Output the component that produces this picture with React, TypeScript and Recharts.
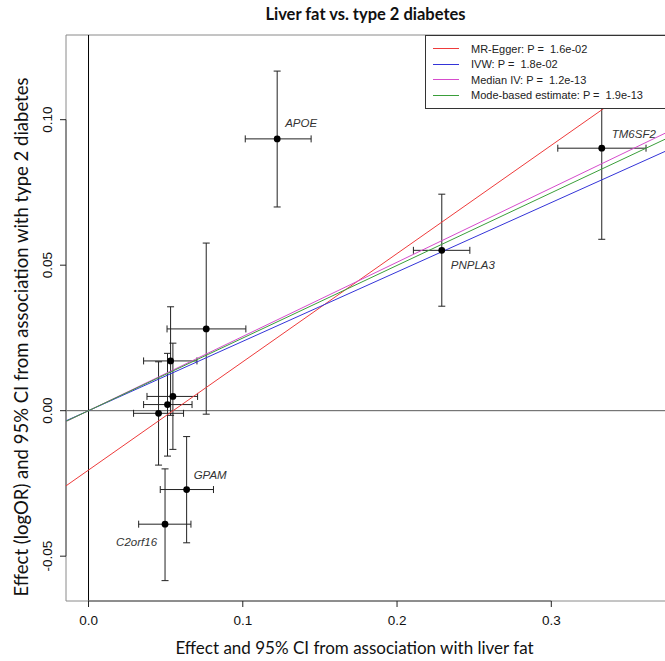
import React from "react";
import {
  ScatterChart,
  Scatter,
  XAxis,
  YAxis,
  ErrorBar,
  ReferenceLine,
  Label,
} from "recharts";

// Genetic variants (labelled ones first, unlabelled ones after)
const genes = ["APOE", "TM6SF2", "PNPLA3", "GPAM", "C2orf16", "", "", "", "", ""];
// association with liver fat (x) and its 95% CI
const betaX = [0.1223, 0.3327, 0.229, 0.0636, 0.0496, 0.0763, 0.0532, 0.0547, 0.0512, 0.0454];
const lowX = [0.1016, 0.3042, 0.2106, 0.0465, 0.0325, 0.0509, 0.0357, 0.0379, 0.0357, 0.0292];
const highX = [0.1443, 0.3614, 0.2472, 0.081, 0.0664, 0.102, 0.0703, 0.0707, 0.0671, 0.0616];
// association with type 2 diabetes (y) and its 95% CI
const betaY = [0.0934, 0.0902, 0.0551, -0.0271, -0.039, 0.0281, 0.0171, 0.0049, 0.0021, -0.0009];
const lowY = [0.07, 0.0589, 0.0359, -0.0454, -0.0584, -0.0012, -0.0016, -0.0133, -0.0156, -0.0187];
const highY = [0.1167, 0.1215, 0.0744, -0.0089, -0.02, 0.0576, 0.0357, 0.0232, 0.0197, 0.0168];

// MR estimates
const methods = ["MR-Egger", "IVW", "Median IV", "Mode-based estimate"];
const pValues = ["1.6e-02", "1.8e-02", "1.2e-13", "1.9e-13"];
const intercepts = [-0.0204, 0, 0, 0];
const slopes = [0.372, 0.2384, 0.2551, 0.2496];
const colors = ["#ee3b3b", "#3434d8", "#d64ccc", "#3a9e3a"];

const xTicks = [0, 0.1, 0.2, 0.3];
const yTicks = [-0.05, 0, 0.05, 0.1];
const xDomain = [-0.0146, 0.3737];
const yDomain = [-0.0654, 0.1291];

// where each gene name sits relative to its point
const labelPos: Record<string, { dx: number; dy: number; anchor: string }> = {
  APOE: { dx: 8, dy: -16, anchor: "start" },
  TM6SF2: { dx: 10, dy: -14, anchor: "start" },
  PNPLA3: { dx: 9, dy: 15, anchor: "start" },
  GPAM: { dx: 7, dy: -15, anchor: "start" },
  C2orf16: { dx: -8, dy: 18, anchor: "end" },
};

const points = genes.map((gene, i) => ({
  gene,
  x: betaX[i],
  y: betaY[i],
  xErr: [betaX[i] - lowX[i], highX[i] - betaX[i]],
  yErr: [betaY[i] - lowY[i], highY[i] - betaY[i]],
}));

const fitLines = methods.map((name, i) => ({
  name,
  color: colors[i],
  data: xDomain.map((x) => ({ x, y: intercepts[i] + slopes[i] * x })),
}));

const tickFont = "'Liberation Sans', Arial, sans-serif";
const titleFont = "Lato, 'Open Sans', sans-serif";
const boxColor = "#8a8a8a";

const GeneDot = (props: any) => {
  const { cx, cy, payload } = props;
  const pos = labelPos[payload.gene];
  return (
    <g>
      <circle cx={cx} cy={cy} r={3.4} fill="#000" />
      {pos && (
        <text
          x={cx + pos.dx}
          y={cy + pos.dy}
          dy="0.35em"
          textAnchor={pos.anchor}
          fontStyle="italic"
          fontSize={11.5}
          fontFamily={tickFont}
          fill="#333"
        >
          {payload.gene}
        </text>
      )}
    </g>
  );
};

const NoDot = () => <g />;

const XTick = ({ x, y, payload }: any) => (
  <text x={x} y={y + 11} dy="0.35em" textAnchor="middle" fontSize={13.5} fontFamily={tickFont} fill="#111">
    {payload.value.toFixed(1)}
  </text>
);

const YTick = ({ x, y, payload }: any) => (
  <text
    x={x - 11}
    y={y}
    dy="0.35em"
    textAnchor="middle"
    transform={`rotate(-90 ${x - 11} ${y})`}
    fontSize={13.5}
    fontFamily={tickFont}
    fill="#111"
  >
    {payload.value.toFixed(2)}
  </text>
);

const XTitle = ({ viewBox }: any) => (
  <text
    x={viewBox.x + viewBox.width / 2 - 11}
    y={viewBox.y + 47}
    dy="0.35em"
    textAnchor="middle"
    fontSize={17}
    fontFamily={titleFont}
    fill="#111"
  >
    Effect and 95% CI from association with liver fat
  </text>
);

const YTitle = ({ viewBox }: any) => {
  const cx = 22;
  const cy = viewBox.y + viewBox.height / 2 + 19;
  return (
    <text
      x={cx}
      y={cy}
      dy="0.35em"
      textAnchor="middle"
      transform={`rotate(-90 ${cx} ${cy})`}
      fontSize={18.5}
      fontFamily={titleFont}
      fill="#111"
    >
      Effect (logOR) and 95% CI from association with type 2 diabetes
    </text>
  );
};

const MethodLegend = () => (
  <div
    style={{
      position: "absolute",
      left: 425,
      top: 35,
      width: 240,
      background: "#fff",
      borderLeft: "1px solid #333",
      borderTop: "1px solid #333",
      borderBottom: "1px solid #333",
      padding: "5px 0 5px 7px",
      fontFamily: tickFont,
      fontSize: 11,
      color: "#222",
      boxSizing: "border-box",
    }}
  >
    {methods.map((m, i) => (
      <div key={m} style={{ display: "flex", alignItems: "center", height: 15.5, whiteSpace: "pre" }}>
        <span style={{ display: "inline-block", width: 26, height: 1, background: colors[i], marginRight: 12 }} />
        {`${m}: P =  ${pValues[i]}`}
      </div>
    ))}
  </div>
);

export default function App() {
  return (
    <div style={{ position: "absolute", left: 0, top: 0, width: 665, height: 661, overflow: "hidden", background: "#fff" }}>
      <div
        style={{
          position: "absolute",
          left: 66,
          width: 599,
          top: 3,
          lineHeight: "22px",
          textAlign: "center",
          fontFamily: titleFont,
          fontWeight: 700,
          fontSize: 16.5,
          color: "#111",
        }}
      >
        Liver fat vs. type 2 diabetes
      </div>
      <ScatterChart width={665} height={661} margin={{ top: 35, right: 0, bottom: 0, left: 0 }}>
        <XAxis
          type="number"
          dataKey="x"
          domain={xDomain}
          allowDataOverflow
          ticks={xTicks}
          tickSize={6}
          tick={<XTick />}
          height={60}
          stroke={boxColor}
          tickLine={{ stroke: "#222" }}
        >
          <Label content={<XTitle />} />
        </XAxis>
        <YAxis
          type="number"
          dataKey="y"
          domain={yDomain}
          allowDataOverflow
          ticks={yTicks}
          tickSize={6}
          tick={<YTick />}
          width={66}
          stroke={boxColor}
          tickLine={{ stroke: "#222" }}
        >
          <Label content={<YTitle />} />
        </YAxis>
        <ReferenceLine y={yDomain[1]} stroke={boxColor} />
        <ReferenceLine
          segment={[
            { x: xTicks[0], y: yDomain[0] },
            { x: xTicks[xTicks.length - 1], y: yDomain[0] },
          ]}
          stroke="#222"
        />
        <ReferenceLine
          segment={[
            { x: xDomain[0], y: yTicks[0] },
            { x: xDomain[0], y: yTicks[yTicks.length - 1] },
          ]}
          stroke="#222"
        />
        <ReferenceLine x={0} stroke="#000" />
        <ReferenceLine y={0} stroke="#5a5a5a" />
        {fitLines.map((l) => (
          <Scatter
            key={l.name}
            name={l.name}
            data={l.data}
            line={{ stroke: l.color, strokeWidth: 1 }}
            shape={<NoDot />}
            legendType="none"
            isAnimationActive={false}
          />
        ))}
        <Scatter data={points} shape={<GeneDot />} isAnimationActive={false} legendType="none">
          <ErrorBar dataKey="xErr" direction="x" width={3.5} stroke="#222" strokeWidth={1} isAnimationActive={false} />
          <ErrorBar dataKey="yErr" direction="y" width={3.5} stroke="#222" strokeWidth={1} isAnimationActive={false} />
        </Scatter>
      </ScatterChart>
      <MethodLegend />
    </div>
  );
}
